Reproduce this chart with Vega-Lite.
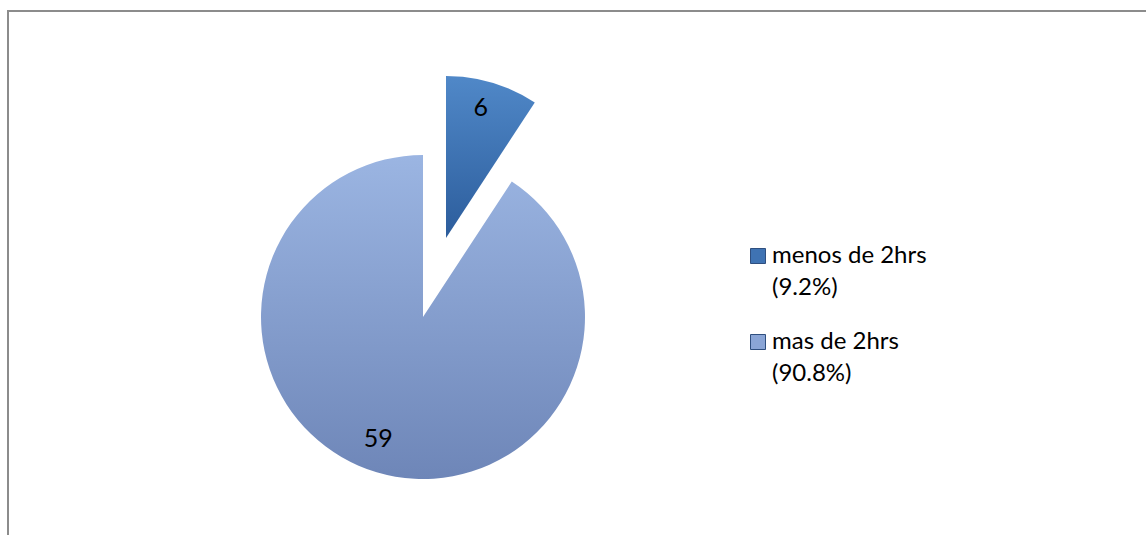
{
  "$schema": "https://vega.github.io/schema/vega-lite/v6.json",
  "width": 1200,
  "height": 600,
  "padding": {"left": 7, "top": 10, "right": 0, "bottom": 0},
  "background": "white",
  "config": {"view": {"stroke": null}, "font": "Lato"},
  "data": {"values": [
    {"categoria": "menos de 2hrs", "n": 6, "orden": 1},
    {"categoria": "mas de 2hrs", "n": 59, "orden": 2}
  ]},
  "layer": [
    {
      "data": {"values": [{"marco": "borde"}]},
      "mark": {"type": "rect", "fill": "white", "fillOpacity": 0, "stroke": "#8c8c8c", "strokeWidth": 2},
      "encoding": {}
    },
    {
      "mark": {"type": "arc", "x": 415, "y": 306, "outerRadius": 0, "innerRadius": 0},
      "encoding": {
        "theta": {"field": "n", "type": "quantitative", "stack": true},
        "order": {"field": "orden", "type": "quantitative"},
        "color": {
          "field": "categoria", "type": "nominal",
          "scale": {"domain": ["menos de 2hrs", "mas de 2hrs"], "range": ["#3f73b3", "#8aa5d6"]},
          "legend": {
            "orient": "none", "legendX": 738, "legendY": 233, "title": null,
            "symbolType": "square", "symbolSize": 225, "symbolStrokeWidth": 1, "symbolStrokeColor": "#2f4f7f",
            "labelFontSize": 24, "labelFont": "Lato", "labelColor": "black",
            "labelLimit": 0, "labelOffset": 2, "rowPadding": 30,
            "labelExpr": "datum.value == 'menos de 2hrs' ? ['menos de 2hrs', '(9.2%)'] : ['mas de 2hrs', '(90.8%)']",
            "encode": {"labels": {"update": {"lineHeight": {"value": 32}}}}
          }
        }
      }
    },
    {
      "mark": {"type": "arc", "x": 415, "y": 306, "outerRadius": 162,
        "fill": {"gradient": "linear", "x1": 0, "y1": 0, "x2": 0, "y2": 1, "stops": [{"offset": 0, "color": "#9bb5e2"}, {"offset": 1, "color": "#6e86b8"}]}},
      "encoding": {
        "theta": {"field": "n", "type": "quantitative", "stack": true},
        "order": {"field": "orden", "type": "quantitative"},
        "opacity": {"condition": {"test": "datum.categoria === 'menos de 2hrs'", "value": 0}, "value": 1}
      }
    },
    {
      "mark": {"type": "arc", "x": 415, "y": 306, "outerRadius": 162, "xOffset": 23, "yOffset": -79,
        "fill": {"gradient": "linear", "x1": 0, "y1": 0, "x2": 0, "y2": 1, "stops": [{"offset": 0, "color": "#5088c8"}, {"offset": 1, "color": "#2c5d9c"}]}},
      "encoding": {
        "theta": {"field": "n", "type": "quantitative", "stack": true},
        "order": {"field": "orden", "type": "quantitative"},
        "opacity": {"condition": {"test": "datum.categoria === 'menos de 2hrs'", "value": 1}, "value": 0}
      }
    },
    {
      "mark": {"type": "text", "x": 415, "y": 306, "radius": 132, "fontSize": 25, "font": "Lato", "color": "black", "dx": -7, "dy": -4},
      "encoding": {
        "theta": {"field": "n", "type": "quantitative", "stack": true},
        "order": {"field": "orden", "type": "quantitative"},
        "text": {"field": "n", "type": "quantitative"},
        "opacity": {"condition": {"test": "datum.categoria === 'menos de 2hrs'", "value": 0}, "value": 1}
      }
    },
    {
      "mark": {"type": "text", "x": 415, "y": 306, "radius": 132, "fontSize": 25, "font": "Lato", "color": "black", "xOffset": 23, "yOffset": -79, "dx": -3, "dy": -4},
      "encoding": {
        "theta": {"field": "n", "type": "quantitative", "stack": true},
        "order": {"field": "orden", "type": "quantitative"},
        "text": {"field": "n", "type": "quantitative"},
        "opacity": {"condition": {"test": "datum.categoria === 'menos de 2hrs'", "value": 1}, "value": 0}
      }
    }
  ]
}
